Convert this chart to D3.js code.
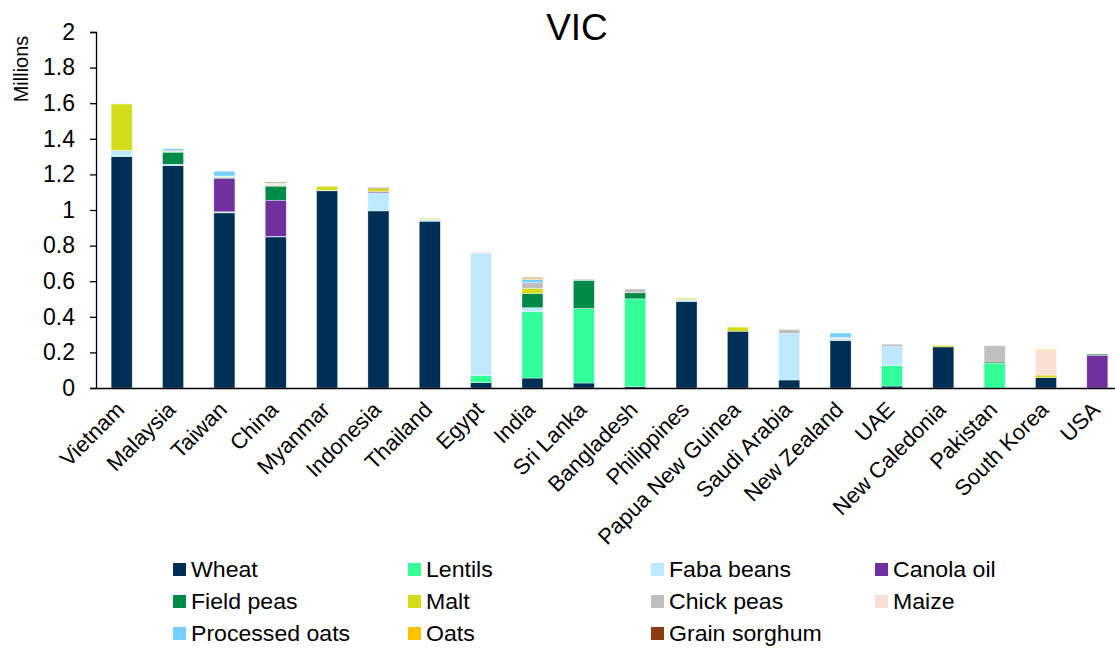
<!DOCTYPE html>
<html><head><meta charset="utf-8">
<script src="https://cdn.jsdelivr.net/npm/d3@7"></script>
<style>
body{margin:0;background:#fff;}
svg text{font-family:"Liberation Sans",Arial,sans-serif;fill:#000;}
</style></head>
<body><svg id="chart" width="1115" height="648"></svg>
<script>
const categories = ["Vietnam","Malaysia","Taiwan","China","Myanmar","Indonesia","Thailand","Egypt","India","Sri Lanka","Bangladesh","Philippines","Papua New Guinea","Saudi Arabia","New Zealand","UAE","New Caledonia","Pakistan","South Korea","USA"];
const seriesNames = ["Wheat","Lentils","Faba beans","Canola oil","Field peas","Malt","Chick peas","Maize","Processed oats","Oats","Grain sorghum"];
const seriesColors = ["#002F56","#33FF99","#BDE9FF","#7030A0","#008A47","#D4DC1A","#BFBFBF","#F8E0D4","#75D0FF","#FFC000","#8B3C10"];
const wheat         = [1.300,1.250,0.984,0.849,1.108,0.995,0.937,0.030,0.056,0.028,0.008,0.486,0.319,0.045,0.267,0.011,0.231,0.000,0.058,0.000];
const lentils       = [0.003,0.000,0.000,0.000,0.000,0.000,0.000,0.041,0.372,0.419,0.493,0.000,0.000,0.000,0.000,0.115,0.000,0.139,0.000,0.000];
const fabaBeans     = [0.032,0.007,0.006,0.003,0.002,0.102,0.011,0.686,0.023,0.000,0.000,0.012,0.000,0.261,0.003,0.107,0.000,0.000,0.000,0.000];
const canolaOil     = [0.000,0.000,0.187,0.203,0.000,0.007,0.000,0.000,0.000,0.000,0.000,0.000,0.000,0.000,0.000,0.000,0.000,0.000,0.000,0.184];
const fieldPeas     = [0.000,0.068,0.006,0.079,0.000,0.000,0.000,0.000,0.080,0.158,0.034,0.000,0.000,0.000,0.004,0.000,0.000,0.007,0.000,0.006];
const malt          = [0.261,0.000,0.000,0.003,0.023,0.017,0.004,0.000,0.029,0.000,0.000,0.004,0.023,0.000,0.000,0.000,0.009,0.000,0.015,0.000];
const chickPeas     = [0.000,0.000,0.004,0.005,0.000,0.000,0.000,0.004,0.032,0.006,0.021,0.000,0.000,0.022,0.004,0.013,0.000,0.091,0.000,0.000];
const maize         = [0.004,0.008,0.004,0.005,0.000,0.000,0.000,0.004,0.000,0.000,0.000,0.000,0.000,0.000,0.005,0.000,0.000,0.000,0.139,0.000];
const processedOats = [0.000,0.011,0.027,0.004,0.000,0.000,0.000,0.000,0.018,0.000,0.000,0.000,0.000,0.000,0.026,0.000,0.000,0.000,0.000,0.000];
const oats          = [0.000,0.000,0.000,0.003,0.000,0.000,0.003,0.000,0.006,0.000,0.000,0.004,0.000,0.000,0.000,0.000,0.000,0.000,0.004,0.000];
const grainSorghum  = [0.000,0.000,0.000,0.003,0.000,0.004,0.000,0.000,0.004,0.000,0.000,0.000,0.000,0.000,0.000,0.000,0.000,0.000,0.000,0.000];
const yTicks = [0,0.2,0.4,0.6,0.8,1,1.2,1.4,1.6,1.8,2];
const yTickLabels = ["0","0.2","0.4","0.6","0.8","1","1.2","1.4","1.6","1.8","2"];
const title = "VIC";
const yTitle = "Millions";

const seriesValues = [wheat,lentils,fabaBeans,canolaOil,fieldPeas,malt,chickPeas,maize,processedOats,oats,grainSorghum];
const rows = categories.map((c,i)=>{const r={cat:c}; seriesNames.forEach((s,j)=>r[s]=seriesValues[j][i]); return r;});
const stacked = d3.stack().keys(seriesNames)(rows);

const svg = d3.select("#chart");
const x = d3.scaleBand().domain(categories).range([96,1123]).paddingInner(0.59).paddingOuter(0.295);
const y = d3.scaleLinear().domain([0,2]).range([388,32]);

// bars
svg.append("g").selectAll("g").data(stacked).join("g")
  .attr("fill",(d,i)=>seriesColors[i])
  .selectAll("rect").data(d=>d.map((v,i)=>({v,cat:categories[i]})).filter(o=>o.v[1]-o.v[0]>0)).join("rect")
  .attr("x",d=>x(d.cat)).attr("width",x.bandwidth())
  .attr("y",d=>y(d.v[1])).attr("height",d=>y(d.v[0])-y(d.v[1]))
  .attr("stroke","#ffffff").attr("stroke-opacity",0.6).attr("stroke-width",0.6);

// y axis
const ya = svg.append("g").attr("transform","translate(96,0)")
  .call(d3.axisLeft(y).tickValues(yTicks).tickFormat((d,i)=>yTickLabels[i]).tickSizeOuter(0).tickSize(6).tickPadding(15));
ya.select(".domain").attr("stroke","#000").attr("stroke-width",1.3);
ya.selectAll(".tick line").attr("stroke","#000").attr("stroke-width",1.3);
ya.selectAll(".tick text").style("font-size","23px").style("font-family","Liberation Sans, Arial, sans-serif");

// x axis
const xa = svg.append("g").attr("transform","translate(0,388)")
  .call(d3.axisBottom(x).tickSize(0).tickSizeOuter(0).tickPadding(0));
xa.select(".domain").attr("stroke","#000").attr("stroke-width",1.5);
xa.selectAll(".tick text").style("font-size","22px").style("font-family","Liberation Sans, Arial, sans-serif")
  .attr("text-anchor","end").attr("dy",null).attr("y",0)
  .attr("transform","translate(4,23) rotate(-45)");

// title
svg.append("text").attr("x",577).attr("y",40).attr("text-anchor","middle").style("font-size","37px").text(title);
svg.append("text").attr("transform","translate(28,69) rotate(-90)").attr("text-anchor","middle").style("font-size","20px").text(yTitle);

// legend
const colX = [173,408,651,875];
const rowY = [569.5,601.5,633.5];
const lg = svg.append("g").selectAll("g").data(seriesNames).join("g")
  .attr("transform",(d,i)=>`translate(${colX[i%4]},${rowY[Math.floor(i/4)]})`);
lg.append("rect").attr("x",0).attr("y",-6.5).attr("width",13).attr("height",13).attr("fill",(d,i)=>seriesColors[i]);
lg.append("text").attr("transform","translate(18,7) scale(1.05,1)").style("font-size","22px").text(d=>d);
</script></body></html>
